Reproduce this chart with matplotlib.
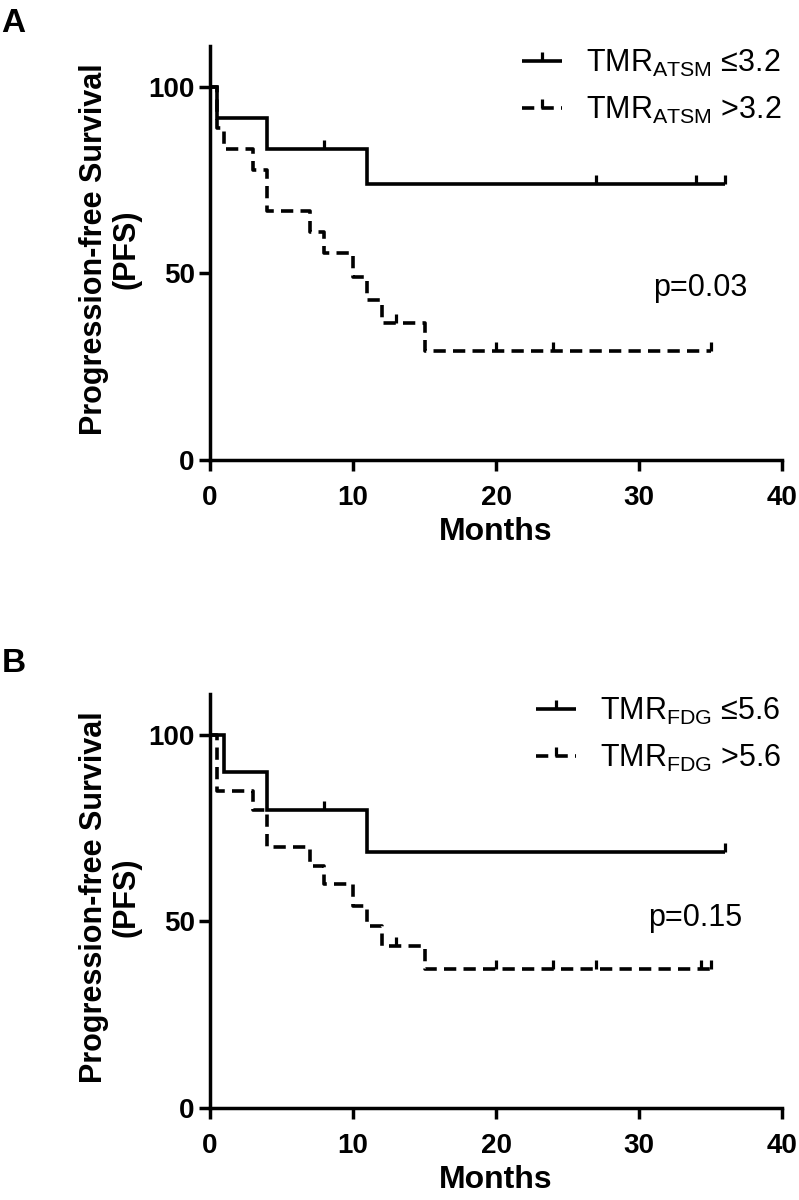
import matplotlib
matplotlib.use("Agg")
import matplotlib.pyplot as plt
from matplotlib.path import Path
from matplotlib.lines import Line2D

plt.rcParams['font.family'] = ['Liberation Sans', 'DejaVu Sans']
plt.rcParams['mathtext.default'] = 'regular'

# ---------------- data ----------------
# Panel A
a_low_t = [0, 0.5, 4, 11, 36]
a_low_s = [100, 91.7, 83.3, 74.1, 74.1]
a_low_cens_t = [8, 27, 34, 36]
a_low_cens_s = [83.3, 74.1, 74.1, 74.1]

a_high_t = [0, 0.5, 1, 3, 4, 7, 8, 10, 11, 12, 15, 35]
a_high_s = [100, 88.9, 83.3, 77.8, 66.7, 61.1, 55.6, 49.0, 42.8, 36.7, 29.3, 29.3]
a_high_cens_t = [13, 20, 24, 35]
a_high_cens_s = [36.7, 29.3, 29.3, 29.3]

# Panel B
b_low_t = [0, 1, 4, 11, 36]
b_low_s = [100, 90, 80, 68.6, 68.6]
b_low_cens_t = [8, 36]
b_low_cens_s = [80, 68.6]

b_high_t = [0, 0.5, 3, 4, 7, 8, 10, 11, 12, 15, 35]
b_high_s = [100, 85, 80, 70, 65, 60, 54.2, 48.8, 43.4, 37.2, 37.2]
b_high_cens_t = [13, 20, 24, 27, 34.3, 35]
b_high_cens_s = [43.4, 37.2, 37.2, 37.2, 37.2, 37.2]

labels_a = [r'TMR$_{ATSM}$ ≤3.2', r'TMR$_{ATSM}$ >3.2']
labels_b = [r'TMR$_{FDG}$ ≤5.6', r'TMR$_{FDG}$ >5.6']
pvals = ['p=0.03', 'p=0.15']
panel_letters = ['A', 'B']
x_ticks = [0, 10, 20, 30, 40]
y_ticks = [0, 50, 100]
xlabel = 'Months'
ylabel = 'Progression-free Survival\n(PFS)'

# ---------------- style ----------------
LW = 2.6
DASH = (3.4, 2.0)
tick_marker = Path([(0, 0), (0, 1)], [Path.MOVETO, Path.LINETO])
MS = 13

fig = plt.figure(figsize=(7.99, 12.0), dpi=100)
ax_a = fig.add_axes([0.2628, 0.6167, 0.716, 0.345])
ax_b = fig.add_axes([0.2628, 0.0767, 0.716, 0.345])

panels = [
    (ax_a, (a_low_t, a_low_s, a_low_cens_t, a_low_cens_s),
     (a_high_t, a_high_s, a_high_cens_t, a_high_cens_s), labels_a, pvals[0],
     (34.3, 46)),
    (ax_b, (b_low_t, b_low_s, b_low_cens_t, b_low_cens_s),
     (b_high_t, b_high_s, b_high_cens_t, b_high_cens_s), labels_b, pvals[1],
     (33.9, 51)),
]

for ax, low, high, labs, pv, ppos in panels:
    # solid curve
    ax.step(low[0], low[1], where='post', color='black', lw=LW,
            solid_joinstyle='miter', solid_capstyle='butt', clip_on=False, zorder=3)
    ax.plot(low[2], low[3], ls='none', marker=tick_marker, ms=MS, mew=2.3,
            color='black', clip_on=False, zorder=3)
    # dashed curve
    ax.step(high[0], high[1], where='post', color='black', lw=LW,
            dashes=DASH, dash_capstyle='butt', clip_on=False, zorder=3)
    ax.plot(high[2], high[3], ls='none', marker=tick_marker, ms=MS, mew=2.3,
            color='black', clip_on=False, zorder=3)

    ax.set_xlim(0, 40)
    ax.set_ylim(0, 111)
    ax.set_xticks(x_ticks)
    ax.set_yticks(y_ticks)
    for s in ['top', 'right']:
        ax.spines[s].set_visible(False)
    for s in ['left', 'bottom']:
        ax.spines[s].set_linewidth(2.5)
    ax.tick_params(axis='both', length=8, width=2.5, labelsize=20)
    ax.tick_params(axis='x', pad=10)
    ax.tick_params(axis='y', pad=3)
    for lab in ax.get_xticklabels() + ax.get_yticklabels():
        lab.set_fontweight('bold')
    ax.set_xlabel(xlabel, fontsize=23, fontweight='bold', labelpad=4)
    ax.text(-0.175, 0.51, ylabel, transform=ax.transAxes, rotation=90,
            ha='center', va='center', fontsize=22, fontweight='bold',
            multialignment='center', linespacing=1.1)

    handles = [
        Line2D([], [], color='black', lw=LW, marker=tick_marker, ms=MS, mew=2.3,
               solid_capstyle='butt'),
        Line2D([], [], color='black', lw=LW, dashes=DASH, marker=tick_marker,
               ms=MS, mew=2.3),
    ]
    ax.legend(handles, labs, loc='upper right', bbox_to_anchor=(1.0, 0.995),
              frameon=False, fontsize=22, handlelength=1.3, handletextpad=0.8,
              labelspacing=0.5, borderpad=0, borderaxespad=0, numpoints=1)

    ax.text(ppos[0], ppos[1], pv, ha='center', va='center', fontsize=22)

for letter, y in zip(panel_letters, [0.993, 0.46]):
    fig.text(0.002, y, letter, ha='left', va='top', fontsize=24, fontweight='bold')

fig.savefig('out.png', dpi=100)
